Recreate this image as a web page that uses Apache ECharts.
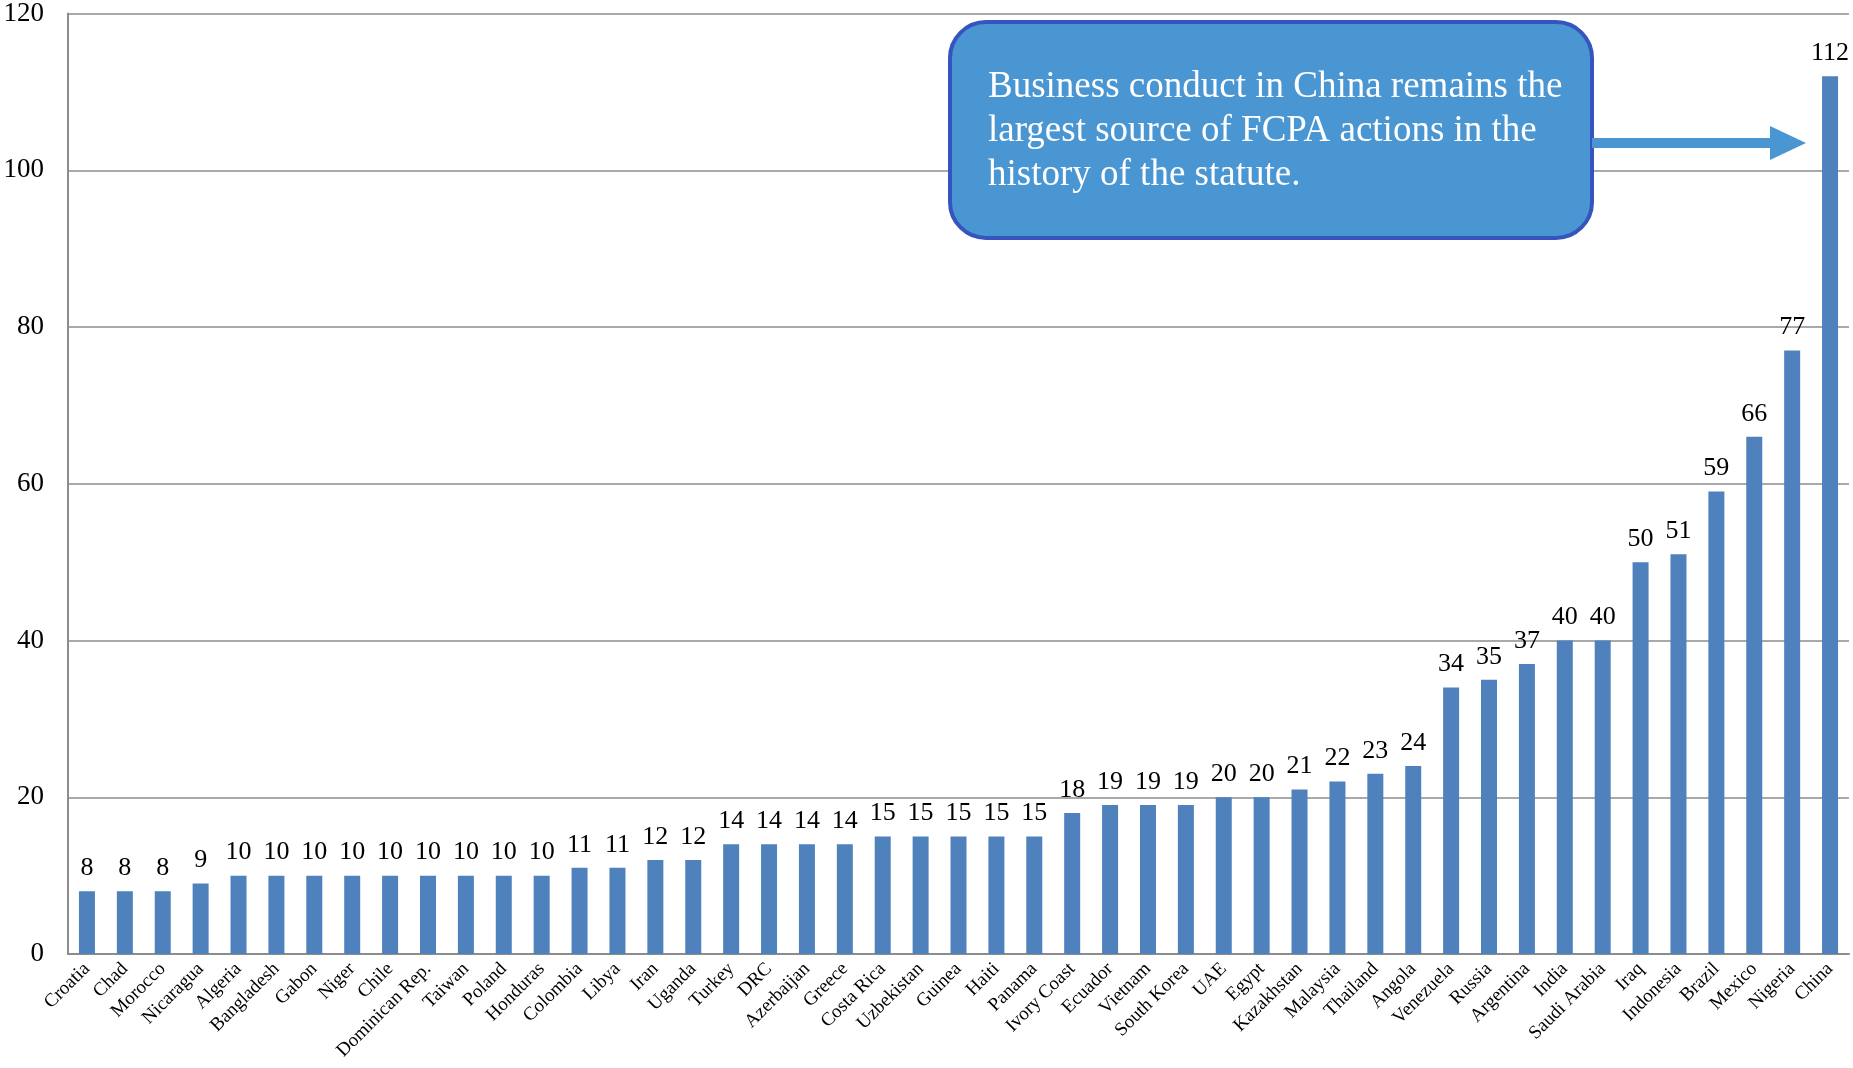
<!DOCTYPE html>
<html>
<head>
<meta charset="utf-8">
<script src="https://cdn.jsdelivr.net/npm/echarts@6/dist/echarts.min.js"></script>
<style>
  html, body { margin: 0; padding: 0; background: #fff; }
  #chart { width: 1853px; height: 1068px; }
</style>
</head>
<body>
<div id="chart"></div>
<script>
// FCPA enforcement actions by country
const countries = [
  'Croatia', 'Chad', 'Morocco', 'Nicaragua', 'Algeria', 'Bangladesh', 'Gabon', 'Niger',
  'Chile', 'Dominican Rep.', 'Taiwan', 'Poland', 'Honduras', 'Colombia', 'Libya', 'Iran',
  'Uganda', 'Turkey', 'DRC', 'Azerbaijan', 'Greece', 'Costa Rica', 'Uzbekistan', 'Guinea',
  'Haiti', 'Panama', 'Ivory Coast', 'Ecuador', 'Vietnam', 'South Korea', 'UAE', 'Egypt',
  'Kazakhstan', 'Malaysia', 'Thailand', 'Angola', 'Venezuela', 'Russia', 'Argentina', 'India',
  'Saudi Arabia', 'Iraq', 'Indonesia', 'Brazil', 'Mexico', 'Nigeria', 'China'
];
const actions = [
  8, 8, 8, 9, 10, 10, 10, 10,
  10, 10, 10, 10, 10, 11, 11, 12,
  12, 14, 14, 14, 14, 15, 15, 15,
  15, 15, 18, 19, 19, 19, 20, 20,
  21, 22, 23, 24, 34, 35, 37, 40,
  40, 50, 51, 59, 66, 77, 112
];
const yTicks = { min: 0, max: 120, step: 20 };
const calloutText = 'Business conduct in China remains the\nlargest source of FCPA actions in the\nhistory of the statute.';

const serif = '"Liberation Serif", "Times New Roman", serif';
const chart = echarts.init(document.getElementById('chart'));

chart.setOption({
  animation: false,
  backgroundColor: '#ffffff',
  grid: { left: 68, right: 4, top: 13, bottom: 114, containLabel: false },
  xAxis: {
    type: 'category',
    data: countries,
    axisLine: { show: true, lineStyle: { color: '#8c8c8c', width: 2 } },
    axisTick: { show: false },
    axisLabel: {
      interval: 0,
      rotate: 45,
      margin: 12,
      fontFamily: serif,
      fontSize: 19,
      color: '#000'
    }
  },
  yAxis: {
    type: 'value',
    min: yTicks.min,
    max: yTicks.max,
    interval: yTicks.step,
    axisLine: { show: true, lineStyle: { color: '#8c8c8c', width: 2 } },
    axisTick: { show: false },
    axisLabel: {
      margin: 24,
      fontFamily: serif,
      fontSize: 27,
      color: '#000'
    },
    splitLine: { show: true, lineStyle: { color: '#8c8c8c', width: 1.5 } }
  },
  series: [{
    type: 'bar',
    data: actions,
    barWidth: 16,
    itemStyle: { color: '#4F81BD' },
    label: {
      show: true,
      position: 'top',
      distance: 10,
      fontFamily: serif,
      fontSize: 26,
      color: '#000'
    }
  }],
  graphic: [
    {
      type: 'rect',
      left: 948,
      top: 20,
      shape: { width: 642, height: 216, r: 36 },
      style: { fill: '#4A96D3', stroke: '#3654BE', lineWidth: 4 },
      z: 10
    },
    {
      type: 'text',
      left: 988,
      top: 65,
      style: {
        text: calloutText,
        font: '37px ' + serif,
        fill: '#ffffff',
        lineHeight: 44
      },
      z: 11
    },
    {
      type: 'rect',
      left: 1592,
      top: 138,
      shape: { width: 180, height: 10 },
      style: { fill: '#4A96D3' },
      z: 10
    },
    {
      type: 'polygon',
      shape: { points: [[1770, 126], [1806, 143], [1770, 160]] },
      style: { fill: '#4A96D3' },
      z: 10
    }
  ]
});
</script>
</body>
</html>
